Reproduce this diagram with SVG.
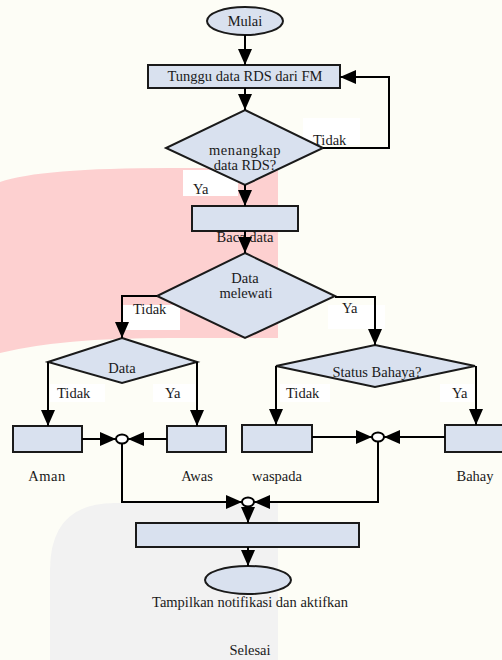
<svg xmlns="http://www.w3.org/2000/svg" width="502" height="660" viewBox="0 0 502 660">
<defs>
<marker id="ah" markerUnits="userSpaceOnUse" markerWidth="16" markerHeight="14" refX="16" refY="7" orient="auto">
<path d="M0,0 L16,7 L0,14 Z" fill="#000"/>
</marker>
<style>
.bg{fill:#fdfdf6}
.node{fill:#d9e1ef;stroke:#1a1a1a;stroke-width:2}
.lbl{fill:#ffffff}
.c{fill:none;stroke:#000;stroke-width:2}
.a{fill:none;stroke:#000;stroke-width:2;marker-end:url(#ah)}
.j{fill:#ffffff;stroke:#000;stroke-width:2}
text{font-family:'Liberation Serif','Times New Roman',serif;font-size:14.5px;fill:#1a1a1a}
.m{text-anchor:middle}
</style>
</defs>
<rect class="bg" x="0" y="0" width="502" height="660"/>
<path d="M0,182 Q40,168 170,168 L278,168 L278,338 L170,338 Q60,338 0,353 Z" fill="#fdd0d0"/>
<path d="M50,660 L50,570 Q50,503 115,503 L278,503 L278,660 Z" fill="#f2f2f2"/>

<g id="labels-bg">
<rect class="lbl" x="303" y="118" width="57" height="27"/>
<rect class="lbl" x="183" y="170" width="55" height="26"/>
<rect class="lbl" x="123" y="305" width="57" height="25"/>
<rect class="lbl" x="328" y="305" width="57" height="24"/>
<rect class="lbl" x="50" y="384" width="55" height="18"/>
<rect class="lbl" x="153" y="384" width="42" height="18"/>
<rect class="lbl" x="280" y="384" width="50" height="18"/>
<rect class="lbl" x="440" y="384" width="34" height="18"/>
</g>

<g font-family="Liberation Serif, Times New Roman, serif">
<g id="n-mulai">
<ellipse class="node" cx="245" cy="21" rx="38" ry="14"/>
<text class="m" x="245" y="26">Mulai</text>
</g>
<g id="n-tunggu">
<rect class="node" x="148" y="65" width="192" height="23"/>
<text class="m" x="245" y="81">Tunggu data RDS dari FM</text>
</g>
<g id="n-menangkap">
<polygon class="node" points="245,110 323,148 245,185 166,148"/>
<text class="m" x="245" y="155" letter-spacing="0.6">menangkap</text>
<text class="m" x="245" y="170">data RDS?</text>
</g>
<g id="n-baca">
<rect class="node" x="192" y="206" width="106" height="25"/>
<text class="m" x="245" y="242">Baca data</text>
</g>
<g id="n-melewati">
<polygon class="node" points="245,253 335,296 245,338 157,296"/>
<text class="m" x="245" y="283">Data</text>
<text class="m" x="246" y="298">melewati</text>
</g>
<g id="n-data">
<polygon class="node" points="122,338 197,362 122,383 48,362"/>
<text class="m" x="122" y="373">Data</text>
</g>
<g id="n-status">
<polygon class="node" points="375,345 475,366 375,387 276,366"/>
<text class="m" x="377" y="377">Status Bahaya?</text>
</g>
<g id="n-aman">
<rect class="node" x="13" y="426" width="69" height="26"/>
<text class="m" x="47" y="481" letter-spacing="0.5">Aman</text>
</g>
<g id="n-awas">
<rect class="node" x="167" y="426" width="59" height="26"/>
<text class="m" x="197" y="481">Awas</text>
</g>
<g id="n-waspada">
<rect class="node" x="242" y="425" width="70" height="27"/>
<text class="m" x="277" y="481">waspada</text>
</g>
<g id="n-bahay">
<rect class="node" x="445" y="425" width="60" height="27"/>
<text class="m" x="475" y="481">Bahay</text>
</g>
<g id="n-tampil">
<rect class="node" x="136" y="523" width="223" height="24"/>
</g>
<g id="n-selesai">
<ellipse class="node" cx="248" cy="580" rx="43" ry="14"/>
<text class="m" x="250" y="607">Tampilkan notifikasi dan aktifkan</text>
<text class="m" x="250" y="655">Selesai</text>
</g>

<g id="connectors">
<line class="a" x1="245" y1="35" x2="245" y2="65"/>
<line class="a" x1="245" y1="88" x2="245" y2="110"/>
<polyline class="a" points="323,148 389,148 389,77 340,77"/>
<line class="a" x1="245" y1="185" x2="245" y2="206"/>
<line class="a" x1="245" y1="231" x2="245" y2="253"/>
<polyline class="a" points="157,296 122,296 122,338"/>
<polyline class="a" points="335,297 375,297 375,345"/>
<polyline class="a" points="48,362 48,426"/>
<polyline class="a" points="197,362 197,426"/>
<polyline class="a" points="276,366 276,425"/>
<polyline class="a" points="476,366 476,425"/>
<line class="a" x1="82" y1="439" x2="116" y2="439"/>
<line class="a" x1="167" y1="439" x2="128" y2="439"/>
<line class="a" x1="312" y1="437" x2="372" y2="437"/>
<line class="a" x1="445" y1="437" x2="384" y2="437"/>
<polyline class="a" points="122,444 122,502 242,502"/>
<polyline class="a" points="378,442 378,502 254,502"/>
<line class="a" x1="248" y1="506" x2="248" y2="523"/>
<line class="a" x1="248" y1="547" x2="248" y2="566"/>
<ellipse class="j" cx="122" cy="439" rx="6" ry="4.5"/>
<ellipse class="j" cx="378" cy="437" rx="6" ry="4.5"/>
<ellipse class="j" cx="248" cy="502" rx="6" ry="4.5"/>
</g>

<g id="edge-labels">
<text x="313" y="145">Tidak</text>
<text x="193" y="194">Ya</text>
<text x="133" y="314">Tidak</text>
<text x="342" y="313">Ya</text>
<text x="57" y="398">Tidak</text>
<text x="165" y="398">Ya</text>
<text x="286" y="398">Tidak</text>
<text x="452" y="398">Ya</text>
</g>
</g>
</svg>
